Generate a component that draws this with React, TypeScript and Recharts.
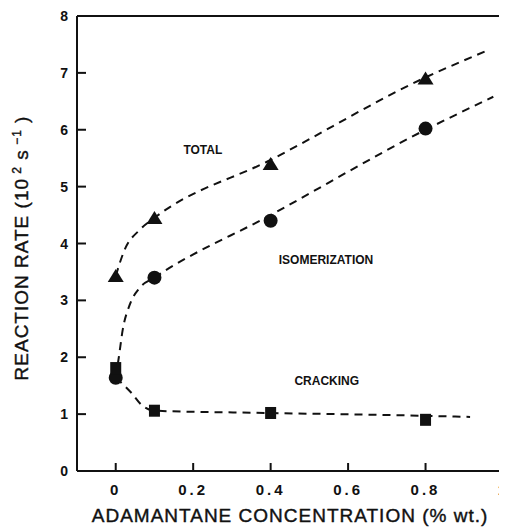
import React from 'react';
import {
  ComposedChart,
  CartesianGrid,
  Line,
  Scatter,
  XAxis,
  YAxis,
  ReferenceDot,
} from 'recharts';

// measured rates at each adamantane loading
const loadings = [0, 0.1, 0.4, 0.8];
const totalRates = [3.43, 4.45, 5.4, 6.9];
const isomerizationRates = [1.64, 3.4, 4.4, 6.02];
const crackingRates = [1.81, 1.06, 1.02, 0.9];

// hand-drawn trend curves through the points
const totalCurveX = [0, 0.023, 0.062, 0.1, 0.4, 0.8, 0.955];
const totalCurveY = [3.43, 3.89, 4.24, 4.45, 5.47, 6.92, 7.38];
const isomerizationCurveX = [0, 0.008, 0.018, 0.036, 0.062, 0.1, 0.4, 0.8, 0.975];
const isomerizationCurveY = [1.64, 2.0, 2.48, 2.92, 3.22, 3.4, 4.5, 6.0, 6.58];
const crackingCurveX = [0, 0.041, 0.067, 0.1, 0.4, 0.8, 0.915];
const crackingCurveY = [1.64, 1.37, 1.16, 1.06, 1.02, 0.97, 0.95];

const xTicks = [0, 0.2, 0.4, 0.6, 0.8, 1];
const yTicks = [0, 1, 2, 3, 4, 5, 6, 7, 8];

const INK = '#111';
const FONT = '"Liberation Sans", Arial, sans-serif';

const toPoints = (xs: number[], ys: number[]) => xs.map((x, i) => ({ x, y: ys[i] }));

const totalPoints = toPoints(loadings, totalRates);
const isomerizationPoints = toPoints(loadings, isomerizationRates);
const crackingPoints = toPoints(loadings, crackingRates);

const Triangle = ({ cx, cy }: any) => (
  <path d={`M${cx},${cy - 7} L${cx + 8},${cy + 6} L${cx - 8},${cy + 6} Z`} fill={INK} />
);
const Circle = ({ cx, cy }: any) => <circle cx={cx} cy={cy} r={7} fill={INK} />;
const Square = ({ cx, cy }: any) => (
  <rect x={cx - 5.5} y={cy - 6} width={11} height={12} fill={INK} />
);

const XTick = ({ x, y, payload }: any) => {
  // the last label sits on the right frame edge, keep it inside the page
  const last = payload.value === 1;
  return (
    <g>
      <line x1={x} y1={y} x2={x} y2={y - 8} stroke={INK} strokeWidth={2} />
      <text
        x={last ? x + 3 : x}
        y={y + 24}
        textAnchor={last ? 'end' : 'middle'}
        fontFamily={FONT}
        fontSize={15}
        fontWeight="bold"
        letterSpacing={last ? 0 : 3}
        fill={INK}
      >
        {payload.value}
      </text>
    </g>
  );
};

const YTick = ({ x, y, payload }: any) => (
  <g>
    <line x1={x} y1={y} x2={x + 9} y2={y} stroke={INK} strokeWidth={2} />
    <text
      x={x - 9}
      y={y + 5}
      textAnchor="end"
      fontFamily={FONT}
      fontSize={14}
      fontWeight="bold"
      fill={INK}
    >
      {payload.value}
    </text>
  </g>
);

const YTitle = () => (
  <text
    x={20}
    y={240}
    transform="rotate(-90, 20, 240)"
    textAnchor="middle"
    fontFamily={FONT}
    fontSize={19}
    letterSpacing={1}
    stroke={INK}
    strokeWidth={0.4}
    fill={INK}
  >
    REACTION RATE (10
    <tspan dy={-7} fontSize={12}> 2</tspan>
    <tspan dy={7}> s</tspan>
    <tspan dy={-7} fontSize={12}> −1</tspan>
    <tspan dy={7}> )</tspan>
  </text>
);

const curveLabel = (value: string) => ({
  value,
  position: 'center' as const,
  fill: INK,
  fontSize: 12,
  fontWeight: 'bold',
  fontFamily: FONT,
});

export default function App() {
  return (
    <ComposedChart
      width={499}
      height={520}
      margin={{ top: 8, right: 4, bottom: 0, left: 0 }}
    >
      {/* plot frame: top and right edges */}
      <CartesianGrid
        horizontalValues={[8]}
        verticalValues={[1]}
        stroke={INK}
        strokeWidth={2}
        strokeOpacity={1}
      />
      <XAxis
        type="number"
        dataKey="x"
        domain={[-0.1, 1]}
        ticks={xTicks}
        allowDataOverflow
        height={57}
        stroke={INK}
        strokeWidth={2}
        tickLine={false}
        tickSize={0}
        tickMargin={0}
        tick={<XTick />}
        interval={0}
        label={{
          value: 'ADAMANTANE CONCENTRATION (% wt.)',
          position: 'insideBottom',
          offset: 6,
          fill: INK,
          stroke: INK,
          strokeWidth: 0.4,
          fontSize: 19,
          fontFamily: FONT,
          letterSpacing: 1,
        }}
      />
      <YAxis
        type="number"
        dataKey="y"
        domain={[0, 8]}
        ticks={yTicks}
        width={69}
        stroke={INK}
        strokeWidth={2}
        tickLine={false}
        tickSize={0}
        tickMargin={0}
        tick={<YTick />}
        interval={0}
        label={{ content: () => <YTitle /> }}
      />

      <Line
        data={toPoints(totalCurveX, totalCurveY)}
        dataKey="y"
        type="monotone"
        stroke={INK}
        strokeWidth={2}
        strokeDasharray="8 6"
        dot={false}
        activeDot={false}
        isAnimationActive={false}
      />
      <Line
        data={toPoints(isomerizationCurveX, isomerizationCurveY)}
        dataKey="y"
        type="monotone"
        stroke={INK}
        strokeWidth={2}
        strokeDasharray="8 6"
        dot={false}
        activeDot={false}
        isAnimationActive={false}
      />
      <Line
        data={toPoints(crackingCurveX, crackingCurveY)}
        dataKey="y"
        type="monotone"
        stroke={INK}
        strokeWidth={2}
        strokeDasharray="8 6"
        dot={false}
        activeDot={false}
        isAnimationActive={false}
      />

      <Scatter data={totalPoints} dataKey="y" shape={<Triangle />} isAnimationActive={false} />
      <Scatter data={isomerizationPoints} dataKey="y" shape={<Circle />} isAnimationActive={false} />
      <Scatter data={crackingPoints} dataKey="y" shape={<Square />} isAnimationActive={false} />

      <ReferenceDot x={0.225} y={5.65} r={0} stroke="none" fill="none" label={curveLabel('TOTAL')} />
      <ReferenceDot x={0.543} y={3.71} r={0} stroke="none" fill="none" label={curveLabel('ISOMERIZATION')} />
      <ReferenceDot x={0.545} y={1.58} r={0} stroke="none" fill="none" label={curveLabel('CRACKING')} />
    </ComposedChart>
  );
}
